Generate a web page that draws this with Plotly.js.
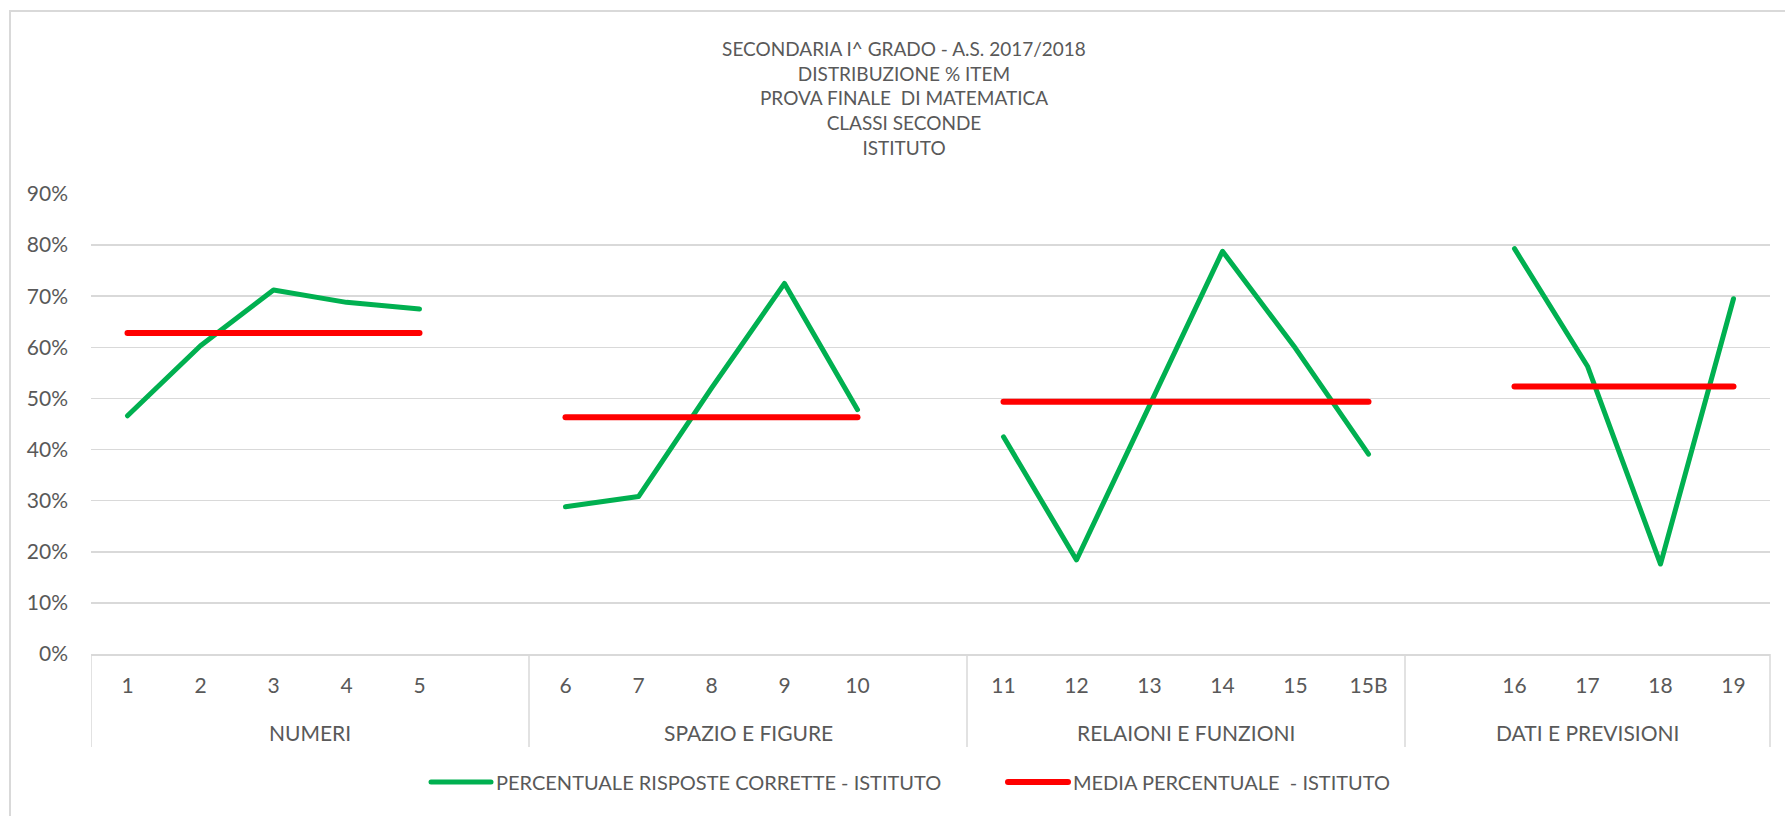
<!DOCTYPE html>
<html>
<head>
<meta charset="utf-8">
<script src="https://cdn.plot.ly/plotly-3.0.1.min.js"></script>
<style>
html,body{margin:0;padding:0;background:#fff;}
#chart{width:1785px;height:816px;}
.js-line{stroke-linecap:round;stroke-linejoin:round;}
</style>
</head>
<body>
<div id="chart"></div>
<script>
// ---- data ----
const titleLines = ["SECONDARIA I^ GRADO - A.S. 2017/2018","DISTRIBUZIONE % ITEM","PROVA FINALE  DI MATEMATICA","CLASSI SECONDE","ISTITUTO"];
const groups = ["NUMERI","SPAZIO E FIGURE","RELAIONI E FUNZIONI","DATI E PREVISIONI"];
const items = ["1","2","3","4","5","","6","7","8","9","10","","11","12","13","14","15","15B","","16","17","18","19"];
const itemGroup = [0,0,0,0,0,0,1,1,1,1,1,1,2,2,2,2,2,2,3,3,3,3,3];
const pctCorrect = [0.466,0.603,0.712,0.688,0.675,null,0.288,0.308,0.520,0.725,0.478,null,0.425,0.184,0.486,0.788,0.598,0.391,null,0.793,0.563,0.176,0.695];
const groupMean = [0.628,0.463,0.4935,0.5235];
const seriesNames = ["PERCENTUALE RISPOSTE CORRETTE - ISTITUTO","MEDIA PERCENTUALE  - ISTITUTO"];
const yTicks = [0,0.1,0.2,0.3,0.4,0.5,0.6,0.7,0.8,0.9];

// ---- build ----
const xIdx = items.map((_, i) => i);
const meanSeries = items.map((it, i) => it === "" ? null : groupMean[itemGroup[i]]);

const W = 1785, H = 816;
const L = 91, R = 15, T = 194, B = 162;
const pw = W - L - R, ph = H - T - B;
const px2x = p => (p - L) / pw;
const px2y = p => (H - B - p) / ph;

const FONT = "Lato, 'Open Sans', sans-serif";
const GREY = "#595959";
const LINEC = "#d9d9d9";

const groupStart = groups.map((g, gi) => itemGroup.indexOf(gi));
const groupEnd = groups.map((g, gi) => itemGroup.lastIndexOf(gi));

const shapes = [];
const sepY0 = px2y(747);
groups.forEach((g, gi) => {
  const xb = groupStart[gi] - 0.5;
  shapes.push({type:"line", xref:"x", yref:"paper", x0:xb, x1:xb, y0:sepY0, y1:0,
    line:{color:LINEC, width:1.5}});
});
shapes.push({type:"line", xref:"paper", yref:"paper", x0:1, x1:1, y0:sepY0, y1:0,
  line:{color:LINEC, width:1.5}});
// chart-area border (left and top edges visible)
shapes.push({type:"line", xref:"paper", yref:"paper", x0:px2x(10), x1:px2x(10), y0:px2y(H+20), y1:px2y(10),
  line:{color:LINEC, width:2}});
shapes.push({type:"line", xref:"paper", yref:"paper", x0:px2x(10), x1:px2x(W+20), y0:px2y(11), y1:px2y(11),
  line:{color:LINEC, width:2}});

const annotations = groups.map((g, gi) => ({
  text: g, xref:"x", yref:"paper",
  x: (groupStart[gi] + groupEnd[gi]) / 2, y: px2y(732),
  showarrow:false, xanchor:"center", yanchor:"middle",
  font:{family:FONT, size:21, color:GREY}
}));

const traces = [
  {x:xIdx, y:pctCorrect, type:"scatter", mode:"lines", name:seriesNames[0],
   line:{color:"#00B050", width:5}, connectgaps:false, hoverinfo:"skip"},
  {x:xIdx, y:meanSeries, type:"scatter", mode:"lines", name:seriesNames[1],
   line:{color:"#FF0000", width:6}, connectgaps:false, hoverinfo:"skip"}
];

const layout = {
  width:W, height:H,
  margin:{l:L, r:R, t:T, b:B, pad:0},
  paper_bgcolor:"#fff", plot_bgcolor:"#fff",
  font:{family:FONT, color:GREY},
  title:{text: titleLines.join("<br>"), xref:"container", yref:"container",
    x:904/W, y:1 - 56/H, xanchor:"center", yanchor:"top",
    font:{family:FONT, size:19, color:GREY}},
  xaxis:{range:[-0.5, items.length - 0.5], tickmode:"array", tickvals:xIdx, ticktext:items,
    showgrid:false, zeroline:false, showline:true, linecolor:LINEC, linewidth:1.5,
    ticks:"", ticklabelstandoff:12, tickfont:{family:FONT, size:21, color:GREY}, fixedrange:true},
  yaxis:{range:[0, 0.9], tickmode:"array", tickvals:yTicks, tickformat:".0%",
    showgrid:true, gridcolor:LINEC, gridwidth:1.5, zeroline:false, showline:false,
    ticks:"", ticklabelstandoff:22, tickfont:{family:FONT, size:21, color:GREY}, fixedrange:true},
  showlegend:true,
  legend:{orientation:"h", x:px2x(426), y:px2y(782), xanchor:"left", yanchor:"middle",
    font:{family:FONT, size:20, color:GREY}, bgcolor:"rgba(0,0,0,0)", itemwidth:60,
    entrywidth:502, entrywidthmode:"pixels"},
  shapes:shapes,
  annotations:annotations
};

Plotly.newPlot("chart", traces, layout, {displayModeBar:false, staticPlot:true});
</script>
</body>
</html>
